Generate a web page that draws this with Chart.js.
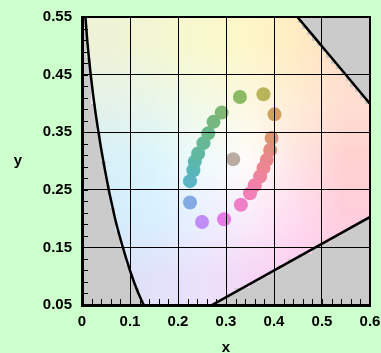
<!DOCTYPE html>
<html>
<head>
<meta charset="utf-8">
<script src="https://cdn.jsdelivr.net/npm/chart.js"></script>
<style>
  html, body { margin: 0; padding: 0; background: #ccffcc; }
  canvas { display: block; }
</style>
</head>
<body>
<canvas id="chart" width="381" height="353"></canvas>
<script>
// CIE 1931 spectral locus, 380nm .. 700nm
const locusX = [0.1741, 0.1740, 0.1738, 0.1736, 0.1733, 0.1730, 0.1726, 0.1721, 0.1714, 0.1703,
  0.1689, 0.1669, 0.1644, 0.1611, 0.1566, 0.1510, 0.1440, 0.1355, 0.1241, 0.1096,
  0.0913, 0.0687, 0.0454, 0.0235, 0.0082, 0.0039, 0.0139, 0.0389, 0.0743, 0.1142,
  0.1547, 0.1929, 0.2296, 0.2658, 0.3016, 0.3373, 0.3731, 0.4087, 0.4441, 0.4788,
  0.5125, 0.5448, 0.5752, 0.6029, 0.6270, 0.6482, 0.6658, 0.6915, 0.7079, 0.7190,
  0.7260, 0.7347];
const locusY = [0.0050, 0.0050, 0.0049, 0.0049, 0.0048, 0.0048, 0.0048, 0.0048, 0.0051, 0.0058,
  0.0069, 0.0086, 0.0109, 0.0138, 0.0177, 0.0227, 0.0297, 0.0399, 0.0578, 0.0868,
  0.1327, 0.2007, 0.2950, 0.4127, 0.5384, 0.6548, 0.7502, 0.8120, 0.8338, 0.8262,
  0.8059, 0.7816, 0.7543, 0.7243, 0.6923, 0.6589, 0.6245, 0.5896, 0.5547, 0.5202,
  0.4866, 0.4544, 0.4242, 0.3965, 0.3725, 0.3514, 0.3340, 0.3083, 0.2920, 0.2809,
  0.2740, 0.2653];

// line of purples
const purpleX = [0.1741, 0.7347];
const purpleY = [0.0050, 0.2653];

// ring of samples
const dotX = [0.329, 0.378, 0.401, 0.395, 0.392, 0.385, 0.378, 0.371, 0.360, 0.350, 0.331,
  0.296, 0.250, 0.225, 0.225, 0.232, 0.235, 0.242, 0.253, 0.263, 0.274, 0.291];
const dotY = [0.411, 0.416, 0.381, 0.340, 0.319, 0.302, 0.288, 0.273, 0.258, 0.244, 0.224,
  0.199, 0.194, 0.228, 0.265, 0.284, 0.299, 0.313, 0.331, 0.348, 0.368, 0.384];
const dotColors = ['#8cb964', '#b8b45a', '#cfa15c', '#dc9470', '#e38c80', '#e8888a', '#eb8692',
  '#ee849c', '#f082a8', '#f280b6', '#f07ec8', '#e77ae8', '#c08cf6', '#84aae4', '#5cb4c4',
  '#58b6b8', '#5cb8ac', '#60b8a0', '#66b896', '#6cb88a', '#74b880', '#7eb874'];

// neutral sample
const grayX = [0.315];
const grayY = [0.303];

// pale background tints, rows at y = 0.5 .. 0.1, columns at x = 0.05 .. 0.55
const tintRows = [
  [[238, 242, 215], [242, 246, 210], [248, 248, 205], [253, 246, 200], [255, 235, 195], [255, 222, 198]],
  [[228, 242, 232], [232, 246, 235], [242, 250, 230], [252, 248, 225], [255, 236, 212], [255, 222, 210]],
  [[215, 240, 248], [218, 245, 252], [238, 250, 252], [255, 252, 250], [255, 228, 228], [255, 208, 208]],
  [[210, 235, 250], [215, 240, 255], [235, 240, 255], [250, 235, 250], [255, 218, 240], [255, 205, 220]],
  [[218, 225, 245], [225, 225, 250], [235, 225, 250], [245, 215, 245], [250, 205, 240], [255, 200, 230]]
];

const toPoints = (xs, ys) => xs.map((x, i) => ({ x: x, y: ys[i] }));

function insideLocus(x, y) {
  let inside = false;
  const n = locusX.length;
  for (let i = 0, j = n - 1; i < n; j = i++) {
    const xi = locusX[i], yi = locusY[i], xj = locusX[j], yj = locusY[j];
    if ((yi > y) !== (yj > y) && x < (xj - xi) * (y - yi) / (yj - yi) + xi) inside = !inside;
  }
  return inside;
}

function tintAt(x, y) {
  let c = (x - 0.05) / 0.1;
  let r = (0.5 - y) / 0.1;
  c = Math.max(0, Math.min(4.999, c));
  r = Math.max(0, Math.min(3.999, r));
  const c0 = Math.floor(c), r0 = Math.floor(r);
  const fc = c - c0, fr = r - r0;
  const out = [];
  for (let k = 0; k < 3; k++) {
    const top = tintRows[r0][c0][k] * (1 - fc) + tintRows[r0][c0 + 1][k] * fc;
    const bot = tintRows[r0 + 1][c0][k] * (1 - fc) + tintRows[r0 + 1][c0 + 1][k] * fc;
    out.push(Math.round(top * (1 - fr) + bot * fr));
  }
  return 'rgb(' + out.join(',') + ')';
}

const backdrop = {
  id: 'backdrop',
  beforeDatasetsDraw(chart) {
    const { ctx, scales: { x, y } } = chart;
    const step = 0.01;
    ctx.save();
    for (let gx = 0; gx < 0.6 - 1e-9; gx += step) {
      for (let gy = 0.05; gy < 0.55 - 1e-9; gy += step) {
        const cx = gx + step / 2, cy = gy + step / 2;
        ctx.fillStyle = insideLocus(cx, cy) ? tintAt(cx, cy) : '#cbcbcb';
        const px = Math.floor(x.getPixelForValue(gx));
        const px2 = Math.ceil(x.getPixelForValue(gx + step));
        const py = Math.floor(y.getPixelForValue(gy + step));
        const py2 = Math.ceil(y.getPixelForValue(gy));
        ctx.fillRect(px, py, px2 - px, py2 - py);
      }
    }
    ctx.restore();
  }
};

const frame = {
  id: 'frame',
  afterDraw(chart) {
    const { ctx, chartArea: a, scales: { x, y } } = chart;
    ctx.save();
    ctx.strokeStyle = '#000';
    ctx.lineWidth = 1;
    ctx.beginPath();
    for (let v = 0.02; v < 0.6; v += 0.02) {
      const px = Math.round(x.getPixelForValue(v)) + 0.5;
      ctx.moveTo(px, a.bottom);
      ctx.lineTo(px, a.bottom - 6);
    }
    for (let v = 0.07; v < 0.55; v += 0.02) {
      const py = Math.round(y.getPixelForValue(v)) + 0.5;
      ctx.moveTo(a.left, py);
      ctx.lineTo(a.left + 6, py);
    }
    ctx.stroke();
    ctx.lineWidth = 2;
    ctx.beginPath();
    ctx.moveTo(a.left, a.top);
    ctx.lineTo(a.right, a.top);
    ctx.lineTo(a.right, a.bottom);
    ctx.stroke();
    ctx.fillStyle = '#000';
    ctx.font = 'bold 15px "Liberation Sans", Arial, sans-serif';
    ctx.textAlign = 'center';
    ctx.textBaseline = 'middle';
    ctx.fillText('x', (a.left + a.right) / 2, 348);
    ctx.fillText('y', 18, (a.top + a.bottom) / 2);
    ctx.restore();
  }
};

Chart.defaults.font.family = '"Liberation Sans", Arial, sans-serif';
Chart.defaults.font.size = 15;
Chart.defaults.font.weight = 'bold';
Chart.defaults.color = '#000';

new Chart(document.getElementById('chart'), {
  type: 'scatter',
  data: {
    datasets: [
      {
        data: toPoints(dotX, dotY),
        pointRadius: 7,
        pointBorderWidth: 0,
        pointBackgroundColor: dotColors
      },
      {
        data: toPoints(grayX, grayY),
        pointRadius: 7,
        pointBorderWidth: 0,
        pointBackgroundColor: '#b9ada3'
      },
      {
        data: toPoints(locusX, locusY),
        showLine: true,
        borderColor: '#000',
        borderWidth: 2.5,
        pointRadius: 0,
        tension: 0.3,
        clip: 0
      },
      {
        data: toPoints(purpleX, purpleY),
        showLine: true,
        borderColor: '#000',
        borderWidth: 2.5,
        pointRadius: 0,
        clip: 0
      }
    ]
  },
  options: {
    responsive: false,
    animation: false,
    layout: { padding: { left: 43, right: 11, top: 17, bottom: 22 } },
    elements: { line: { capBezierPoints: false } },
    plugins: { legend: { display: false }, tooltip: { enabled: false } },
    scales: {
      x: {
        type: 'linear',
        min: 0,
        max: 0.6,
        grid: { color: '#000', lineWidth: 1, drawTicks: false, z: 1 },
        border: { color: '#000', width: 3, z: 2 },
        ticks: {
          stepSize: 0.1,
          padding: 8,
          autoSkip: false,
          maxRotation: 0,
          callback: (v) => String(+v.toFixed(1))
        },
        afterFit: (s) => { s.height = 26; s.paddingLeft = 0; s.paddingRight = 0; }
      },
      y: {
        type: 'linear',
        min: 0.05,
        max: 0.55,
        grid: { color: '#000', lineWidth: 1, drawTicks: false, z: 1 },
        border: { color: '#000', width: 3, z: 2 },
        ticks: {
          stepSize: 0.1,
          padding: 10,
          autoSkip: false,
          callback: (v) => v.toFixed(2)
        },
        afterFit: (s) => { s.width = 39; s.paddingTop = 0; s.paddingBottom = 0; }
      }
    }
  },
  plugins: [backdrop, frame]
});
</script>
</body>
</html>
